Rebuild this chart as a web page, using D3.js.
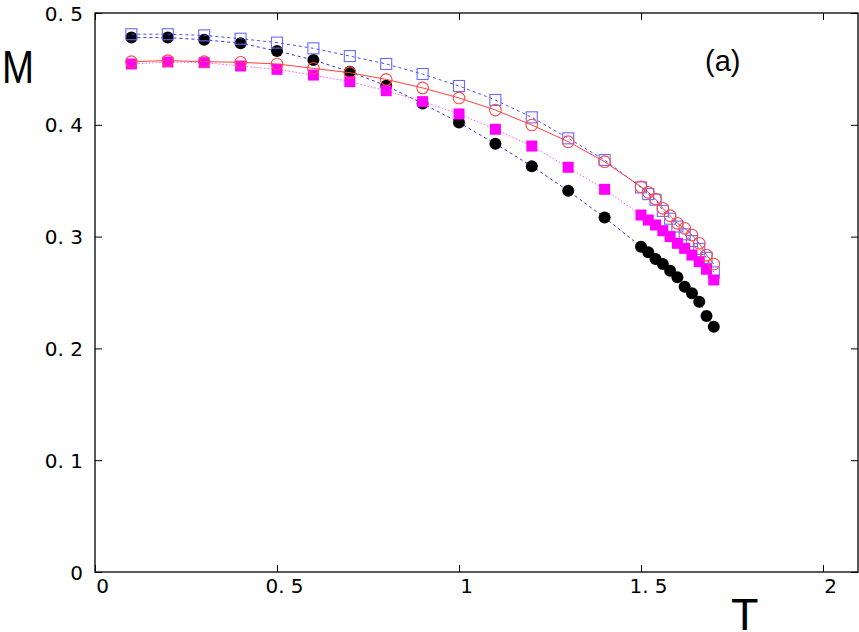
<!DOCTYPE html>
<html>
<head>
<meta charset="utf-8">
<script src="https://cdn.jsdelivr.net/npm/d3@7"></script>
<style>
  body { margin: 0; background: #fff; }
  svg { display: block; }
</style>
</head>
<body>
<div id="chart"></div>
<script>
const width = 859;
const height = 632;

// temperatures (x values)
const temps = [0.1, 0.2, 0.3, 0.4, 0.5, 0.6, 0.7, 0.8, 0.9, 1.0, 1.1, 1.2, 1.3, 1.4,
  1.5, 1.52, 1.54, 1.56, 1.58, 1.6, 1.62, 1.64, 1.66, 1.68, 1.7];

// magnetisation series
const blackM = [0.478, 0.478, 0.476, 0.473, 0.466, 0.458, 0.4475, 0.435, 0.419, 0.402, 0.383, 0.363, 0.341, 0.317,
  0.291, 0.286, 0.280, 0.2755, 0.2695, 0.2636, 0.2552, 0.2493, 0.2418, 0.229, 0.2194];
const blueM = [0.481, 0.481, 0.480, 0.477, 0.4735, 0.4684, 0.4615, 0.4544, 0.4454, 0.4347, 0.4222, 0.4067, 0.3879, 0.3685,
  0.344, 0.338, 0.333, 0.323, 0.316, 0.309, 0.302, 0.296, 0.289, 0.281, 0.268];
const magentaM = [0.4544, 0.4562, 0.4556, 0.4526, 0.4496, 0.4445, 0.4386, 0.4305, 0.4207, 0.4097, 0.396, 0.381, 0.362, 0.3423,
  0.3193, 0.3148, 0.3104, 0.3053, 0.300, 0.294, 0.2895, 0.2835, 0.2776, 0.2708, 0.2612];
const redM = [0.4565, 0.4574, 0.4565, 0.4559, 0.4544, 0.4505, 0.4466, 0.4406, 0.433, 0.424, 0.4132, 0.3998, 0.3849, 0.367,
  0.3446, 0.3396, 0.3336, 0.3253, 0.3187, 0.3119, 0.3074, 0.3014, 0.294, 0.2835, 0.2755];

const xTicks = [0, 0.5, 1, 1.5, 2];
const yTicks = [0, 0.1, 0.2, 0.3, 0.4, 0.5];
const tickLabel = v => v === 0 ? "0" : (Number.isInteger(v) ? String(v) : String(v).replace(".", ". "));

const plot = { left: 95, right: 858, top: 13, bottom: 572 };

const x = d3.scaleLinear().domain([0, 2]).range([plot.left, 823]);
const y = d3.scaleLinear().domain([0, 0.5]).range([plot.bottom, plot.top]);

const svg = d3.select("#chart")
  .append("svg")
  .attr("width", width)
  .attr("height", height);

// frame
svg.append("rect")
  .attr("x", plot.left)
  .attr("y", plot.top)
  .attr("width", plot.right - plot.left)
  .attr("height", plot.bottom - plot.top)
  .attr("fill", "none")
  .attr("stroke", "#000")
  .attr("stroke-width", 1.3);

// axes with inward ticks
const axisStyle = g => {
  g.select(".domain").remove();
  g.selectAll(".tick line").attr("stroke", "#000").attr("stroke-width", 1);
  g.selectAll(".tick text")
    .attr("fill", "#000")
    .style("font-family", "'DejaVu Sans', sans-serif")
    .style("font-size", "20px");
};

svg.append("g")
  .attr("transform", `translate(0,${plot.bottom})`)
  .call(d3.axisBottom(x).tickValues(xTicks).tickSize(-7).tickPadding(0).tickFormat(tickLabel))
  .call(axisStyle)
  .call(g => g.selectAll(".tick text").attr("y", 21).attr("dy", 0).attr("dx", 7));

svg.append("g")
  .attr("transform", `translate(0,${plot.top})`)
  .call(d3.axisTop(x).tickValues(xTicks).tickSize(-7).tickFormat(""))
  .call(axisStyle);

svg.append("g")
  .attr("transform", `translate(${plot.left},0)`)
  .call(d3.axisLeft(y).tickValues(yTicks).tickSize(-7).tickPadding(0).tickFormat(tickLabel))
  .call(axisStyle)
  .call(g => g.selectAll(".tick text").attr("x", -12).attr("dy", 7));

svg.append("g")
  .attr("transform", `translate(${plot.right},0)`)
  .call(d3.axisRight(y).tickValues(yTicks).tickSize(-7).tickFormat(""))
  .call(axisStyle);

// axis titles and panel label
svg.append("text")
  .attr("x", 2)
  .attr("y", 83)
  .attr("textLength", 32)
  .attr("lengthAdjust", "spacingAndGlyphs")
  .style("font-family", "'Liberation Sans', Arial, sans-serif")
  .style("font-size", "47px")
  .text("M");

svg.append("text")
  .attr("x", 731)
  .attr("y", 630)
  .style("font-family", "'Liberation Sans', Arial, sans-serif")
  .style("font-size", "45px")
  .text("T");

svg.append("text")
  .attr("x", 705)
  .attr("y", 71)
  .style("font-family", "'Liberation Sans', Arial, sans-serif")
  .style("font-size", "29px")
  .text("(a)");

const line = d3.line().x(d => x(d.t)).y(d => y(d.m));
const toPoints = vals => temps.map((t, i) => ({ t, m: vals[i] }));

const series = [
  { vals: blackM, lineColor: "#3333ee", dash: "3,3", shape: "dot", color: "#000" },
  { vals: blueM, lineColor: "#4d4dff", dash: "3,3", shape: "box", color: "#6a6aff" },
  { vals: magentaM, lineColor: "#ff55ff", dash: "1.5,2", shape: "fbox", color: "#ff00ff" },
  { vals: redM, lineColor: "#ff4040", dash: null, shape: "ring", color: "#ff4a4a" }
];

series.forEach(s => {
  const pts = toPoints(s.vals);
  svg.append("path")
    .datum(pts)
    .attr("fill", "none")
    .attr("stroke", s.lineColor)
    .attr("stroke-width", 1)
    .attr("stroke-dasharray", s.dash)
    .attr("d", line);

  const g = svg.append("g");
  if (s.shape === "dot" || s.shape === "ring") {
    g.selectAll("circle")
      .data(pts)
      .enter()
      .append("circle")
      .attr("cx", d => x(d.t))
      .attr("cy", d => y(d.m))
      .attr("r", s.shape === "dot" ? 6 : 5.8)
      .attr("fill", s.shape === "dot" ? s.color : "none")
      .attr("stroke", s.color)
      .attr("stroke-width", s.shape === "dot" ? 0 : 1.1);
  } else {
    const sz = 11;
    g.selectAll("rect")
      .data(pts)
      .enter()
      .append("rect")
      .attr("x", d => x(d.t) - sz / 2)
      .attr("y", d => y(d.m) - sz / 2)
      .attr("width", sz)
      .attr("height", sz)
      .attr("fill", s.shape === "fbox" ? s.color : "none")
      .attr("stroke", s.shape === "fbox" ? "none" : s.color)
      .attr("stroke-width", 1.1);
  }
});
</script>
</body>
</html>
